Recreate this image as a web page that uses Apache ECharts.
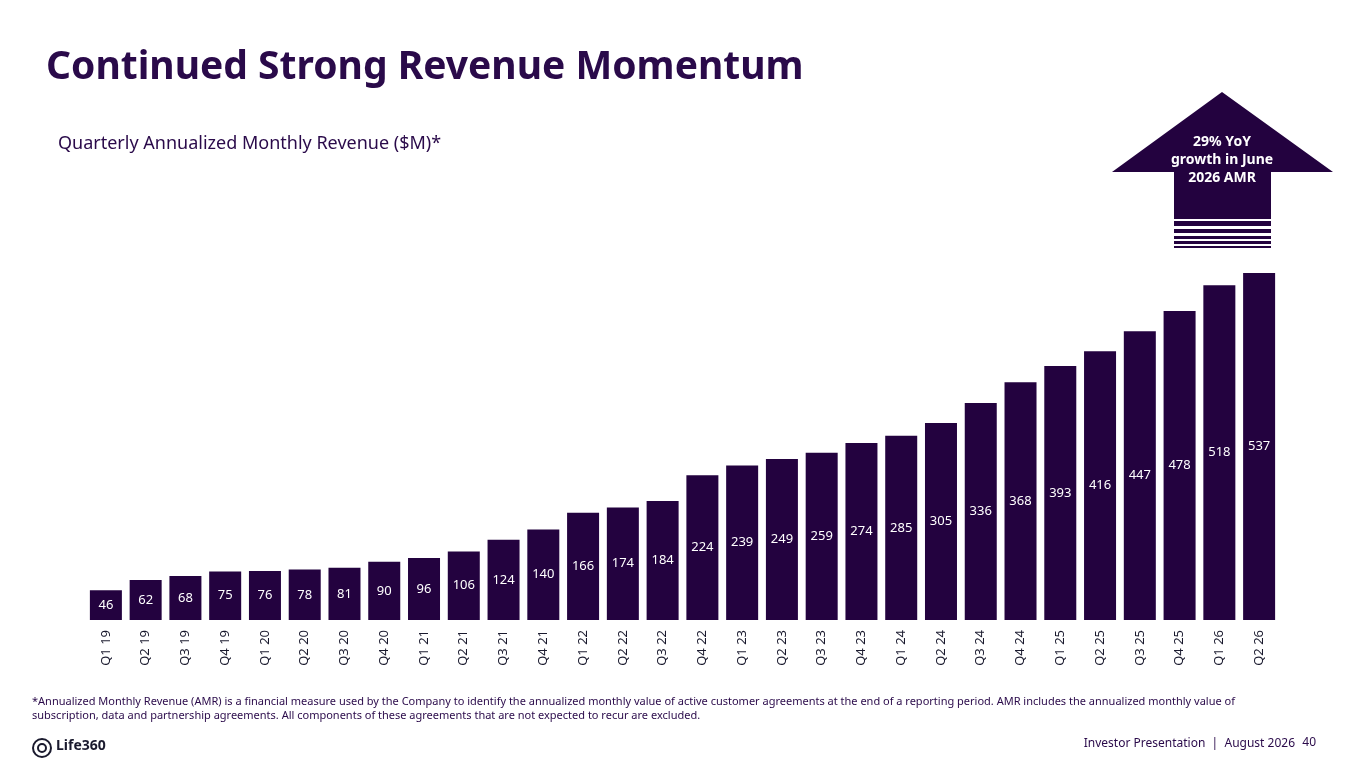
<!DOCTYPE html>
<html><head><meta charset="utf-8">
<script src="https://cdn.jsdelivr.net/npm/echarts@6/dist/echarts.min.js"></script>
<style>html,body{margin:0;padding:0;background:#fff}#c{width:1365px;height:768px}</style>
</head><body><div id="c"></div>
<script>
const categories = ["Q1 19","Q2 19","Q3 19","Q4 19","Q1 20","Q2 20","Q3 20","Q4 20","Q1 21","Q2 21","Q3 21","Q4 21","Q1 22","Q2 22","Q3 22","Q4 22","Q1 23","Q2 23","Q3 23","Q4 23","Q1 24","Q2 24","Q3 24","Q4 24","Q1 25","Q2 25","Q3 25","Q4 25","Q1 26","Q2 26"];
const amr = [46,62,68,75,76,78,81,90,96,106,124,140,166,174,184,224,239,249,259,274,285,305,336,368,393,416,447,478,518,537];
const C = '#23023f';
const chart = echarts.init(document.getElementById('c'));
const font = '"Noto Sans", "Open Sans", sans-serif';
chart.setOption({
  animation:false,
  grid:{left:86,right:86,top:273,bottom:148},
  xAxis:{type:'category',data:categories,axisLine:{show:false},axisTick:{show:false},
    axisLabel:{rotate:90,color:'#1a1a2e',fontSize:13,fontFamily:font,margin:10}},
  yAxis:{type:'value',min:0,max:537,show:false,splitLine:{show:false}},
  series:[{type:'bar',data:amr,barWidth:32,itemStyle:{color:C},
    label:{show:true,position:'inside',color:'#fff',fontSize:13,fontFamily:font}}],
  graphic:[
    {type:'text',left:46,top:48,style:{text:'Continued Strong Revenue Momentum',fill:'#2a0a4a',font:'bold 39px '+font}},
    {type:'text',left:58,top:135,style:{text:'Quarterly Annualized Monthly Revenue ($M)*',fill:'#2a0a4a',font:'18px '+font}},
    {type:'polygon',shape:{points:[[1222,92],[1333,172],[1271,172],[1271,219],[1174,219],[1174,172],[1112,172]]},style:{fill:C}},
    {type:'rect',shape:{x:1174,y:221,width:97,height:5},style:{fill:C}},
    {type:'rect',shape:{x:1174,y:229,width:97,height:4},style:{fill:C}},
    {type:'rect',shape:{x:1174,y:236,width:97,height:3},style:{fill:C}},
    {type:'rect',shape:{x:1174,y:241,width:97,height:3},style:{fill:C}},
    {type:'rect',shape:{x:1174,y:246,width:97,height:2},style:{fill:C}},
    {type:'text',x:1222,y:160,style:{text:'29% YoY\ngrowth in June\n2026 AMR',fill:'#fff',align:'center',verticalAlign:'middle',lineHeight:18,font:'bold 14px '+font}},
    {type:'text',left:32,top:695,style:{text:'*Annualized Monthly Revenue (AMR) is a financial measure used by the Company to identify the annualized monthly value of active customer agreements at the end of a reporting period. AMR includes the annualized monthly value of\nsubscription, data and partnership agreements. All components of these agreements that are not expected to recur are excluded.',fill:'#2a0a4a',lineHeight:14,font:'11px '+font}},
    {type:'circle',shape:{cx:42,cy:748,r:9},style:{fill:'none',stroke:'#1a1a2e',lineWidth:2}},
    {type:'circle',shape:{cx:42,cy:748,r:4},style:{fill:'none',stroke:'#1a1a2e',lineWidth:2}},
    {type:'text',left:56,top:739,style:{text:'Life360',fill:'#1a1a2e',font:'bold 14px '+font}},
    {type:'text',right:70,top:738,style:{text:'Investor Presentation  |  August 2026',fill:'#2a0a4a',font:'12px '+font}},
    {type:'text',right:49,top:737,style:{text:'40',fill:'#2a0a4a',font:'12px '+font}}
  ]
});
</script></body></html>
